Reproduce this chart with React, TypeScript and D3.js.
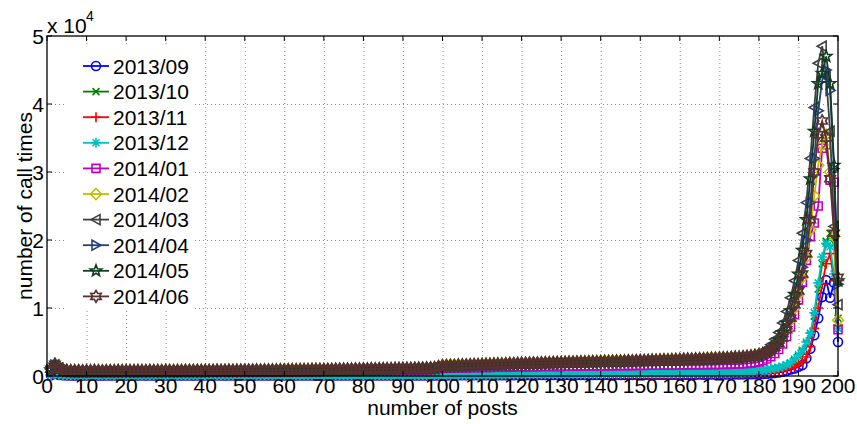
import React from "react";
import * as d3 from "d3";

// number of posts: 1..200
const posts = d3.range(1, 201);

const months = ["2013/09", "2013/10", "2013/11", "2013/12", "2014/01", "2014/02", "2014/03", "2014/04", "2014/05", "2014/06"];
const colors = ["#0000ff", "#008000", "#ff0000", "#00bfbf", "#bf00bf", "#bfbf00", "#404040", "#253f80", "#103c20", "#573030"];
const markers = ["o", "x", "+", "*", "s", "d", "<", ">", "p", "h"];

const xTicks = d3.range(0, 201, 10);
const yTicks = [0, 10000, 20000, 30000, 40000, 50000];
const yTickLabels = ["0", "1", "2", "3", "4", "5"];

const s201309 = [
  120,300,160,100,80,70,60,70,60,70,60,70,60,60,70,60,70,60,70,60,
  60,70,60,70,60,70,60,70,70,60,70,60,70,60,70,70,60,70,60,70,
  70,60,70,70,60,70,70,60,70,70,70,60,70,70,70,60,70,70,70,70,
  70,70,60,70,70,70,70,70,60,70,70,70,70,70,70,70,70,70,70,70,
  70,70,70,70,80,70,70,70,80,70,70,80,70,80,70,80,70,80,80,90,
  90,100,90,100,110,100,110,110,100,110,120,110,120,120,110,120,130,120,130,130,
  120,130,140,130,140,140,130,140,150,140,150,150,140,150,160,150,160,160,150,160,
  170,160,170,170,160,170,180,170,180,180,170,180,190,180,190,190,180,190,200,190,
  200,200,190,200,210,200,210,220,210,220,230,220,230,240,230,240,250,260,270,280,
  300,340,380,440,520,620,760,950,1100,1350,1600,2600,4000,6000,8500,11600,14100,11500,13700,5000,
];
const s201310 = [
  150,350,200,130,110,100,90,100,90,100,90,100,90,90,100,90,100,90,100,90,
  90,100,90,100,90,100,90,100,100,90,100,90,100,90,100,100,90,100,90,100,
  100,90,100,100,90,100,100,90,100,100,100,90,100,100,100,90,100,100,100,100,
  100,100,90,100,100,100,100,100,90,100,100,100,100,100,100,100,100,100,100,100,
  100,100,100,110,110,100,110,110,110,110,120,110,120,120,110,120,130,130,140,150,
  150,160,150,170,170,160,180,180,170,190,200,190,210,210,200,220,230,220,240,240,
  230,250,260,250,270,270,260,280,290,280,300,300,290,310,320,310,330,330,320,350,
  360,350,370,370,360,380,390,380,400,400,390,410,420,410,430,430,420,440,450,440,
  460,470,460,480,490,480,500,510,500,520,530,520,540,560,550,580,610,650,700,750,
  800,880,970,1070,1200,1350,1550,1850,2300,2900,3600,4700,6000,8800,12800,16500,19800,21000,19500,8500,
];
const s201311 = [
  130,320,180,110,90,80,70,80,70,80,70,80,70,70,80,70,80,70,80,70,
  70,80,70,80,70,80,70,80,80,70,80,70,80,70,80,80,70,80,70,80,
  80,70,80,80,70,80,80,70,80,80,80,70,80,80,80,70,80,80,80,80,
  80,80,70,80,80,80,80,80,70,80,80,80,80,80,80,80,80,80,80,80,
  80,80,80,90,90,80,90,90,90,90,100,90,100,100,90,100,100,100,110,110,
  110,120,110,130,130,120,140,140,130,150,150,140,160,160,150,170,170,160,180,180,
  170,190,190,180,200,200,190,210,210,200,220,220,210,230,230,220,240,240,230,250,
  250,240,260,260,250,270,270,260,280,280,270,290,290,280,300,300,290,310,310,300,
  320,320,310,330,330,320,340,340,330,350,350,340,360,360,350,370,380,380,390,400,
  420,460,520,600,700,830,1000,1200,1450,1750,2100,2800,4300,7000,10000,13500,16500,18000,14000,7500,
];
const s201312 = [
  160,380,210,140,120,110,100,110,100,110,100,110,100,100,110,100,110,100,110,100,
  100,110,100,110,100,110,100,110,110,100,110,100,110,100,110,110,100,110,100,110,
  110,100,110,110,100,110,110,100,110,110,110,100,110,110,110,100,110,110,110,110,
  110,110,100,110,110,110,110,110,100,110,110,110,110,110,110,110,110,110,110,110,
  110,110,110,120,120,110,120,120,120,120,130,120,130,130,120,130,140,140,150,160,
  170,180,170,190,190,180,200,200,190,210,220,210,230,230,220,240,250,240,260,260,
  250,270,280,270,290,290,280,300,310,300,320,320,310,330,340,330,350,350,340,370,
  380,370,390,390,380,400,410,400,420,420,410,430,440,430,450,450,440,460,470,460,
  480,490,480,500,510,500,520,530,520,540,550,540,560,580,570,600,630,670,720,780,
  850,930,1020,1120,1250,1400,1650,1950,2500,3100,3800,5000,6300,9300,13700,17500,19500,19000,15000,7000,
];
const s201401 = [
  800,1500,1000,700,560,520,500,510,490,520,500,530,510,490,520,510,500,530,520,510,
  520,500,530,510,520,540,510,530,520,550,530,520,540,530,550,540,530,560,540,550,
  560,550,570,550,560,580,560,570,590,580,600,590,610,600,620,610,630,620,640,630,
  650,640,660,650,670,660,680,690,680,700,710,700,720,730,720,740,750,760,750,770,
  780,790,780,800,810,820,810,830,840,850,860,850,870,880,890,900,920,950,1050,1150,
  1160,1180,1170,1200,1210,1200,1230,1240,1230,1260,1270,1260,1290,1300,1290,1320,1330,1320,1350,1360,
  1350,1370,1380,1370,1390,1400,1390,1410,1420,1410,1430,1440,1430,1450,1460,1450,1470,1480,1470,1490,
  1500,1490,1510,1520,1510,1530,1540,1530,1550,1560,1550,1570,1580,1570,1590,1600,1590,1610,1620,1610,
  1630,1640,1630,1650,1660,1650,1670,1690,1680,1700,1720,1710,1740,1770,1760,1800,1850,1900,1980,2080,
  2250,2500,2850,3300,3900,4700,5800,7200,9000,11200,13800,17000,20500,22500,25000,33500,34000,28800,28500,6800,
];
const s201402 = [
  1100,1800,1250,950,850,800,790,810,780,800,790,820,800,780,810,800,790,820,810,800,
  810,790,820,800,810,830,800,820,810,840,820,810,830,820,840,830,820,850,830,840,
  850,840,860,840,850,870,850,860,880,870,890,880,900,890,910,900,920,910,930,920,
  940,930,950,940,960,950,970,980,970,990,1000,990,1010,1020,1010,1030,1040,1050,1040,1060,
  1070,1080,1070,1090,1100,1110,1100,1120,1130,1140,1150,1140,1160,1170,1180,1200,1220,1250,1400,1560,
  1570,1600,1590,1630,1650,1640,1680,1700,1690,1730,1750,1740,1780,1800,1790,1830,1850,1840,1880,1900,
  1890,1920,1940,1930,1960,1980,1970,2000,2020,2010,2040,2060,2050,2080,2100,2090,2120,2140,2130,2160,
  2180,2170,2200,2220,2210,2240,2260,2250,2280,2300,2290,2320,2350,2340,2370,2400,2390,2420,2450,2440,
  2480,2510,2500,2540,2570,2560,2600,2640,2630,2670,2710,2700,2750,2800,2790,2850,2910,2970,3050,3150,
  3300,3600,3900,4300,4900,5700,6800,8200,10000,12000,14500,17500,21500,26500,31000,34000,35500,30000,20500,8200,
];
const s201403 = [
  950,1650,1150,850,760,720,700,710,690,720,700,730,710,690,720,710,700,730,720,710,
  720,700,730,710,720,740,710,730,720,750,730,720,740,730,750,740,730,760,740,750,
  760,750,770,750,760,780,760,770,790,780,800,790,810,800,820,810,830,820,840,830,
  850,840,860,850,870,860,880,890,880,900,910,900,920,930,920,940,950,960,950,970,
  980,990,980,1000,1010,1020,1010,1030,1040,1050,1060,1050,1070,1080,1090,1110,1130,1160,1300,1450,
  1470,1500,1490,1530,1550,1540,1580,1600,1590,1630,1650,1640,1680,1700,1690,1730,1750,1740,1780,1800,
  1790,1820,1840,1830,1860,1880,1870,1900,1920,1910,1940,1960,1950,1980,2000,1990,2020,2040,2030,2060,
  2080,2070,2100,2120,2110,2140,2160,2150,2180,2200,2190,2220,2250,2240,2270,2300,2290,2320,2350,2340,
  2380,2410,2400,2440,2470,2460,2500,2540,2530,2570,2610,2600,2650,2700,2690,2750,2810,2870,2950,3050,
  3500,4000,4600,5400,6400,7800,9500,11500,14000,17000,21000,25500,32000,39500,46000,48500,44000,36000,22000,10500,
];
const s201404 = [
  900,1600,1100,800,720,680,660,670,650,680,660,690,670,650,680,670,660,690,680,670,
  680,660,690,670,680,700,670,690,680,710,690,680,700,690,710,700,690,720,700,710,
  720,710,730,710,720,740,720,730,750,740,760,750,770,760,780,770,790,780,800,790,
  810,800,820,810,830,820,840,850,840,860,870,860,880,890,880,900,910,920,910,930,
  940,950,940,960,970,980,970,990,1000,1010,1020,1010,1030,1040,1050,1070,1090,1120,1250,1400,
  1420,1450,1440,1480,1500,1490,1530,1550,1540,1580,1600,1590,1630,1650,1640,1680,1700,1690,1730,1750,
  1740,1770,1790,1780,1810,1830,1820,1850,1870,1860,1890,1910,1900,1930,1950,1940,1970,1990,1980,2010,
  2030,2020,2050,2070,2060,2090,2110,2100,2130,2150,2140,2170,2200,2190,2220,2250,2240,2270,2300,2290,
  2330,2360,2350,2390,2420,2410,2450,2490,2480,2520,2560,2550,2600,2650,2640,2700,2750,2800,2870,2950,
  3000,3300,3600,4100,4800,5800,7000,8600,10500,13000,16000,20000,25500,32000,39000,43500,45000,42000,30500,13500,
];
const s201405 = [
  920,1620,1120,820,740,700,680,690,670,700,680,710,690,670,700,690,680,710,700,690,
  700,680,710,690,700,720,690,710,700,730,710,700,720,710,730,720,710,740,720,730,
  740,730,750,730,740,760,740,750,770,760,780,770,790,780,800,790,810,800,820,810,
  830,820,840,830,850,840,860,870,860,880,890,880,900,910,900,920,930,940,930,950,
  960,970,960,980,990,1000,990,1010,1020,1030,1040,1030,1050,1060,1070,1090,1110,1140,1280,1420,
  1440,1470,1460,1500,1520,1510,1550,1570,1560,1600,1620,1610,1650,1670,1660,1700,1720,1710,1750,1770,
  1760,1790,1810,1800,1830,1850,1840,1870,1890,1880,1910,1930,1920,1950,1970,1960,1990,2010,2000,2030,
  2050,2040,2070,2090,2080,2110,2130,2120,2150,2170,2160,2190,2220,2210,2240,2270,2260,2290,2320,2310,
  2350,2380,2370,2410,2440,2430,2470,2510,2500,2540,2580,2570,2620,2670,2660,2720,2780,2840,2920,3000,
  3200,3500,3900,4500,5300,6400,7800,9600,12000,15000,18500,23000,29000,36000,43000,44500,47000,43000,31000,14000,
];
const s201406 = [
  1000,1700,1200,900,800,760,740,750,730,760,740,770,750,730,760,750,740,770,760,750,
  760,740,770,750,760,780,750,770,760,790,770,760,780,770,790,780,770,800,780,790,
  800,790,810,790,800,820,800,810,830,820,840,830,850,840,860,850,870,860,880,870,
  890,880,900,890,910,900,920,930,920,940,950,940,960,970,960,980,990,1000,990,1010,
  1020,1030,1020,1040,1050,1060,1050,1070,1080,1090,1100,1090,1110,1120,1130,1150,1170,1200,1350,1500,
  1510,1550,1540,1580,1600,1590,1630,1650,1640,1680,1700,1690,1730,1750,1740,1780,1800,1790,1830,1850,
  1840,1870,1890,1880,1910,1930,1920,1950,1970,1960,1990,2010,2000,2030,2050,2040,2070,2090,2080,2110,
  2130,2120,2150,2170,2160,2190,2210,2200,2230,2250,2240,2270,2300,2290,2320,2350,2340,2370,2400,2390,
  2430,2460,2450,2490,2520,2510,2550,2590,2580,2620,2660,2650,2700,2750,2740,2800,2860,2920,3000,3100,
  3300,3500,3800,4200,4800,5600,6800,8500,10500,12500,15000,18000,23000,30000,35500,37500,35000,29000,21000,14500,
];

const seriesValues = [s201309, s201310, s201311, s201312, s201401, s201402, s201403, s201404, s201405, s201406];

const W = 857;
const H = 424;
const margin = { left: 47, right: 19, top: 36, bottom: 48 };
const FONT = "'Liberation Sans', Arial, sans-serif";

function star(points: number, outer: number, inner: number) {
  const pts: string[] = [];
  for (let i = 0; i < points * 2; i++) {
    const r = i % 2 === 0 ? outer : inner;
    const a = -Math.PI / 2 + (i * Math.PI) / points;
    pts.push(`${(r * Math.cos(a)).toFixed(2)},${(r * Math.sin(a)).toFixed(2)}`);
  }
  return "M" + pts.join("L") + "Z";
}

function markerPath(m: string) {
  switch (m) {
    case "o":
      return "M4.5,0A4.5,4.5 0 1,1 -4.5,0A4.5,4.5 0 1,1 4.5,0Z";
    case "x":
      return "M-3.5,-3.5L3.5,3.5M-3.5,3.5L3.5,-3.5";
    case "+":
      return "M-5,0H5M0,-5V5";
    case "*":
      return "M-5,0H5M0,-5V5M-3.5,-3.5L3.5,3.5M-3.5,3.5L3.5,-3.5";
    case "s":
      return "M-4,-4H4V4H-4Z";
    case "d":
      return "M0,-5.5L5.5,0L0,5.5L-5.5,0Z";
    case "<":
      return "M-5,0L4,-5L4,5Z";
    case ">":
      return "M5,0L-4,-5L-4,5Z";
    case "p":
      return star(5, 6, 2.5);
    case "h":
      return star(6, 6, 3.4);
    default:
      return "";
  }
}

const App = () => {
  const x = d3.scaleLinear().domain([0, 200]).range([margin.left, W - margin.right]);
  const y = d3.scaleLinear().domain([0, 50000]).range([H - margin.bottom, margin.top]);
  const line = d3
    .line<number>()
    .x((_, i) => x(posts[i]))
    .y((d) => y(d));

  const x0 = x(0), x1 = x(200), y0 = y(0), y1 = y(50000);

  return (
    <svg width={W} height={H} style={{ position: "absolute", left: 0, top: 0, background: "#fff" }} fontFamily={FONT}>
      <rect width={W} height={H} fill="#fff" />
      {/* grid */}
      <g stroke="#8c8c8c" strokeWidth={1} strokeDasharray="1 3">
        {xTicks.slice(1, -1).map((t) => (
          <line key={"gx" + t} x1={x(t) + 0.5} x2={x(t) + 0.5} y1={y0} y2={y1} />
        ))}
        {yTicks.slice(1, -1).map((t) => (
          <line key={"gy" + t} x1={x0} x2={x1} y1={y(t) + 0.5} y2={y(t) + 0.5} />
        ))}
      </g>
      {/* legend background hides grid */}
      <rect x={67} y={46} width={126} height={264} fill="#fff" />
      {/* series */}
      {seriesValues.map((vals, si) => (
        <g key={months[si]}>
          <path d={line(vals) || ""} fill="none" stroke={colors[si]} strokeWidth={1.8} />
          <g fill="none" stroke={colors[si]} strokeWidth={1.6}>
            {vals.map((v, i) => (
              <path key={i} d={markerPath(markers[si])} transform={`translate(${x(posts[i])},${y(v)})`} />
            ))}
          </g>
        </g>
      ))}
      {/* axes box */}
      <rect x={x0} y={y1} width={x1 - x0} height={y0 - y1} fill="none" stroke="#000" strokeWidth={1.3} />
      <g stroke="#000" strokeWidth={1}>
        {xTicks.map((t) => (
          <g key={"tx" + t}>
            <line x1={x(t)} x2={x(t)} y1={y0} y2={y0 - 5} />
            <line x1={x(t)} x2={x(t)} y1={y1} y2={y1 + 5} />
          </g>
        ))}
        {yTicks.map((t) => (
          <g key={"ty" + t}>
            <line x1={x0} x2={x0 + 5} y1={y(t)} y2={y(t)} />
            <line x1={x1} x2={x1 - 5} y1={y(t)} y2={y(t)} />
          </g>
        ))}
      </g>
      {/* tick labels */}
      <g fontSize={21} fill="#000">
        {xTicks.map((t) => (
          <text key={"lx" + t} x={x(t)} y={y0 + 17} textAnchor="middle">
            {t}
          </text>
        ))}
        {yTicks.map((t, i) => (
          <text key={"ly" + t} x={x0 - 3} y={y(t) + 7.5} textAnchor="end">
            {yTickLabels[i]}
          </text>
        ))}
        <text x={x0} y={33}>x 10</text>
        <text x={86} y={21} fontSize={14}>4</text>
        <text x={(x0 + x1) / 2} y={415} textAnchor="middle">number of posts</text>
        <text transform={`translate(32,${(y0 + y1) / 2}) rotate(-90)`} textAnchor="middle">
          number of call times
        </text>
      </g>
      {/* legend */}
      <g fontSize={21}>
        {months.map((m, i) => {
          const cy = 66 + i * 25.6;
          return (
            <g key={"lg" + m}>
              <line x1={83} x2={109} y1={cy} y2={cy} stroke={colors[i]} strokeWidth={1.8} />
              <path d={markerPath(markers[i])} transform={`translate(96,${cy})`} fill="none" stroke={colors[i]} strokeWidth={1.6} />
              <text x={113} y={cy + 7.5} fill="#000">{m}</text>
            </g>
          );
        })}
      </g>
    </svg>
  );
};

export default App;
